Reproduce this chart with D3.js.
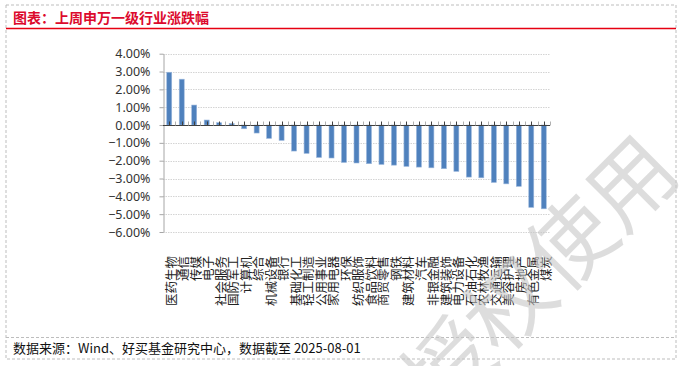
<!DOCTYPE html>
<html>
<head>
<meta charset="utf-8">
<script src="https://cdn.jsdelivr.net/npm/d3@7"></script>
<style>
  html, body { margin: 0; padding: 0; background: #fff; }
  svg { display: block; font-family: "Noto Sans CJK SC", "Noto Sans", sans-serif; }
</style>
</head>
<body>
<div id="chart"></div>
<script>
"use strict";

/*** Data */
const industries = ["医药生物", "通信", "传媒", "电子", "社会服务", "国防军工", "计算机", "综合",
  "机械设备", "银行", "基础化工", "轻工制造", "公用事业", "家用电器", "环保", "纺织服饰",
  "食品饮料", "商贸零售", "钢铁", "建筑材料", "汽车", "非银金融", "建筑装饰", "电力设备",
  "石油石化", "农林牧渔", "交通运输", "美容护理", "房地产", "有色金属", "煤炭"];
const changes = [2.96, 2.57, 1.12, 0.28, 0.13, 0.08, -0.21, -0.45,
  -0.75, -0.86, -1.46, -1.59, -1.82, -1.85, -2.10, -2.13,
  -2.17, -2.21, -2.25, -2.32, -2.36, -2.40, -2.45, -2.60,
  -2.92, -2.96, -3.22, -3.30, -3.44, -4.62, -4.70];
const yTicks = [4, 3, 2, 1, 0, -1, -2, -3, -4, -5, -6];

const titleText = "图表：上周申万一级行业涨跌幅";
const sourceText = "数据来源：Wind、好买基金研究中心，数据截至 2025-08-01";
const watermarkText = "授权使用";

/*** Layout */
const w = 680;
const h = 366;
const plot = { left: 163, right: 550, top: 53.7, bottom: 232 };

const svg = d3.select("#chart")
  .append("svg")
  .attr("width", w)
  .attr("height", h);

/* frame */
svg.append("rect")
  .attr("x", 6).attr("y", 5)
  .attr("width", 670).attr("height", 354)
  .attr("fill", "none")
  .attr("stroke", "#bdbdbd")
  .attr("stroke-dasharray", "3,2");

svg.append("line")
  .attr("x1", 6).attr("x2", 676)
  .attr("y1", 337.5).attr("y2", 337.5)
  .attr("stroke", "#bdbdbd")
  .attr("stroke-dasharray", "3,2");

/* title */
svg.append("text")
  .attr("x", 13).attr("y", 23)
  .attr("fill", "#dc0a2d")
  .attr("font-size", 14)
  .attr("font-weight", "bold")
  .text(titleText);

svg.append("line")
  .attr("x1", 6).attr("x2", 676)
  .attr("y1", 28.5).attr("y2", 28.5)
  .attr("stroke", "#e60012")
  .attr("stroke-width", 1.5);

/*** Scales */
const x = d3.scaleBand()
  .domain(industries)
  .range([plot.left, plot.right])
  .paddingInner(0.6)
  .paddingOuter(0.3);

const y = d3.scaleLinear()
  .domain([-6, 4])
  .range([plot.bottom, plot.top]);

/* gridlines */
svg.append("g")
  .selectAll("line")
  .data(yTicks)
  .enter()
  .append("line")
  .attr("x1", plot.left).attr("x2", plot.right)
  .attr("y1", d => Math.round(y(d)) + 0.5)
  .attr("y2", d => Math.round(y(d)) + 0.5)
  .attr("stroke", "#d4d4d4")
  .attr("stroke-dasharray", "1.5,1");

/* y axis */
const yAxis = d3.axisLeft(y)
  .tickValues(yTicks)
  .tickFormat(d => d3.format(".2f")(d) + "%")
  .tickSize(4)
  .tickSizeOuter(0)
  .tickPadding(9);

const gy = svg.append("g")
  .attr("transform", "translate(" + (plot.left + 0.5) + ",0)")
  .call(yAxis);
gy.select(".domain").attr("stroke", "#a6a6a6");
gy.selectAll(".tick line").attr("stroke", "#a6a6a6");
gy.selectAll(".tick text")
  .attr("fill", "#333")
  .attr("font-size", 12.5)
  .style("font-family", "'Noto Sans', 'Liberation Sans', sans-serif");

/* bars */
svg.append("g")
  .selectAll("rect")
  .data(changes)
  .enter()
  .append("rect")
  .attr("x", (d, i) => x(industries[i]))
  .attr("y", d => y(Math.max(0, d)))
  .attr("width", x.bandwidth())
  .attr("height", d => Math.abs(y(d) - y(0)))
  .attr("fill", "#4f81bd")
  .attr("stroke", "#9bb7dc")
  .attr("stroke-width", 0.6);

/* x axis line with tick marks */
const y0 = Math.round(y(0)) + 0.5;
const gx = svg.append("g");
gx.append("line")
  .attr("x1", plot.left).attr("x2", plot.right)
  .attr("y1", y0).attr("y2", y0)
  .attr("stroke", "#404040");
gx.selectAll("line.c")
  .data(industries)
  .enter()
  .append("line")
  .attr("class", "c")
  .attr("x1", d => Math.round(x(d) + x.bandwidth() / 2) + 0.5)
  .attr("x2", d => Math.round(x(d) + x.bandwidth() / 2) + 0.5)
  .attr("y1", y0 - 4).attr("y2", y0)
  .attr("stroke", "#404040");
gx.selectAll("line.b")
  .data(industries)
  .enter()
  .append("line")
  .attr("class", "b")
  .attr("x1", d => Math.round(x(d) + x.bandwidth() / 2 + x.step() / 2) + 0.5)
  .attr("x2", d => Math.round(x(d) + x.bandwidth() / 2 + x.step() / 2) + 0.5)
  .attr("y1", y0 - 4).attr("y2", y0)
  .attr("stroke", "#b0b0b0");

/* category labels */
svg.append("g")
  .selectAll("text")
  .data(industries)
  .enter()
  .append("text")
  .attr("transform", d => "translate(" + (x(d) + x.bandwidth() / 2 + 2) + ",256) rotate(-90)")
  .attr("text-anchor", "end")
  .attr("dy", "0.38em")
  .attr("font-size", 12.5)
  .attr("fill", "#222")
  .text(d => d);

/* footer */
svg.append("text")
  .attr("x", 13).attr("y", 353)
  .attr("font-size", 13)
  .attr("fill", "#111")
  .text(sourceText);

/* watermark */
svg.append("text")
  .attr("transform", "translate(657,148) rotate(-45)")
  .attr("text-anchor", "end")
  .attr("dominant-baseline", "central")
  .attr("font-size", 86)
  .attr("fill", "#c8c8c8")
  .attr("opacity", 0.6)
  .text(watermarkText);
</script>
</body>
</html>
